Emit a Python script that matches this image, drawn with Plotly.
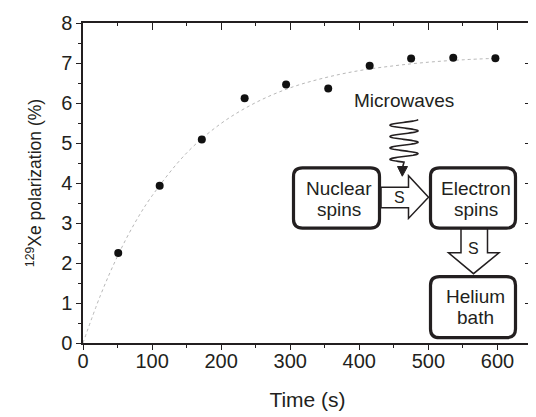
import numpy as np
import plotly.graph_objects as go

# ---- data ----
time_s = [51, 111, 172, 234, 294, 355, 415, 475, 536, 597]
polarization = [2.25, 3.93, 5.09, 6.12, 6.46, 6.36, 6.93, 7.11, 7.13, 7.12]

fit_time = [0, 25, 50, 75, 100, 150, 200, 250, 300, 350, 400, 450, 500, 550, 600]
fit_pol = [0, 1.18, 2.17, 3.00, 3.68, 4.75, 5.49, 6.01, 6.38, 6.63, 6.81, 6.93, 7.02, 7.08, 7.12]

x_ticks = [0, 100, 200, 300, 400, 500, 600]
y_ticks = [0, 1, 2, 3, 4, 5, 6, 7, 8]

# ---- geometry (page body has an 8px default margin) ----
OFF = 8
W, H = 536 - OFF, 417 - OFF
PL, PT = 83, 13            # plot-area left/top in window pixels
PW, PH = 449, 330          # plot-area size
L, T = PL - OFF, PT - OFF
R, B = W - L - PW, H - T - PH

INK = "#231f20"
FONT = "Liberation Sans, Arial, Helvetica, sans-serif"


def px(x):
    return (x - PL) / PW


def py(y):
    return 1 - (y - PT) / PH


def poly(points):
    return "M " + " L ".join(f"{px(x):.5f},{py(y):.5f}" for x, y in points) + " Z"


def rrect(x0, y0, x1, y1, r):
    rx, ry = r / PW, r / PH
    X0, X1 = px(x0), px(x1)
    Y0, Y1 = py(y0), py(y1)
    return (f"M {X0+rx},{Y0} L {X1-rx},{Y0} Q {X1},{Y0} {X1},{Y0-ry} "
            f"L {X1},{Y1+ry} Q {X1},{Y1} {X1-rx},{Y1} L {X0+rx},{Y1} "
            f"Q {X0},{Y1} {X0},{Y1+ry} L {X0},{Y0-ry} Q {X0},{Y0} {X0+rx},{Y0} Z")


fig = go.Figure()

fig.add_trace(go.Scatter(
    x=fit_time, y=fit_pol, mode="lines",
    line=dict(color="#b8b8b8", width=1, dash="dot", shape="spline"),
    hoverinfo="skip", showlegend=False))

fig.add_trace(go.Scatter(
    x=time_s, y=polarization, mode="markers",
    marker=dict(color="#111111", size=8),
    showlegend=False))

# dummy trace so mirrored top/right axes are drawn
fig.add_trace(go.Scatter(x=[None], y=[None], xaxis="x2", yaxis="y2",
                         showlegend=False, hoverinfo="skip"))

axis_common = dict(showline=True, linewidth=1.5, linecolor=INK, showgrid=False,
                   zeroline=False, tickcolor=INK, tickwidth=1.3)

fig.update_layout(
    width=W, height=H, autosize=False,
    margin=dict(l=L, r=R, t=T, b=B, pad=0),
    paper_bgcolor="white", plot_bgcolor="white",
    font=dict(family=FONT, size=20, color=INK),
    xaxis=dict(range=[0, 650], tickvals=x_ticks, ticks="outside", ticklen=5,
               minor=dict(dtick=50, ticks="outside", ticklen=3, tickcolor=INK, tickwidth=1.2),
               ticklabelstandoff=-6,
               title=dict(text="Time (s)", font=dict(size=21), standoff=22),
               tickfont=dict(size=20), **axis_common),
    yaxis=dict(range=[0, 8], tickvals=y_ticks, ticks="outside", ticklen=5,
               minor=dict(dtick=0.5, ticks="outside", ticklen=3, tickcolor=INK, tickwidth=1.2),
               ticklabeloverflow="allow",
               title=dict(text="<sup>129</sup>Xe polarization (%)", font=dict(size=17.5), standoff=15),
               tickfont=dict(size=20), **axis_common),
    xaxis2=dict(range=[0, 650], tickvals=x_ticks, ticks="inside", ticklen=7,
                minor=dict(dtick=50, ticks="inside", ticklen=3, tickcolor=INK, tickwidth=1.2),
                overlaying="x", side="top", anchor="y2", showticklabels=False, **axis_common),
    yaxis2=dict(range=[0, 8], tickvals=y_ticks, ticks="inside", ticklen=7,
                minor=dict(dtick=0.5, ticks="inside", ticklen=3, tickcolor=INK, tickwidth=1.2),
                overlaying="y", side="right", anchor="x2", showticklabels=False, **axis_common),
)

shapes = []
# block arrows (drawn first so boxes cover their ends)
h_arrow = [(381, 182.5), (408.5, 182.5), (408.5, 170.5), (428.5, 192.7),
           (408.5, 214.5), (408.5, 203.5), (381, 203.5)]
v_arrow = [(461, 225), (461, 250), (448.5, 250), (473.5, 271.5),
           (499, 250), (487.5, 250), (487.5, 225)]
for pts in (h_arrow, v_arrow):
    shapes.append(dict(type="path", xref="paper", yref="paper", path=poly(pts),
                       fillcolor="white", line=dict(color=INK, width=1.5), layer="above"))

# rounded boxes
for (x0, y0, x1, y1) in [(293.5, 162.5, 379.5, 224.5),
                         (430.5, 162.5, 515.5, 224.5),
                         (430.5, 274.5, 515.5, 337.5)]:
    shapes.append(dict(type="path", xref="paper", yref="paper",
                       path=rrect(x0, y0, x1, y1, 9),
                       fillcolor="white", line=dict(color=INK, width=3.2), layer="above"))

# microwave wave
t = np.linspace(0, 1, 160)
wy = 112.5 + 44 * t
wx = 404 + 14 * np.cos(np.pi * 7.5 * t)
pts = list(zip(wx, wy)) + [(402.5, 162)]
shapes.append(dict(type="path", xref="paper", yref="paper",
                   path="M " + " L ".join(f"{px(a):.5f},{py(b):.5f}" for a, b in pts),
                   line=dict(color=INK, width=1.6), layer="above"))
shapes.append(dict(type="path", xref="paper", yref="paper",
                   path=poly([(397.5, 161), (407.5, 161), (402.3, 171)]),
                   fillcolor=INK, line=dict(color=INK, width=1), layer="above"))
fig.update_layout(shapes=shapes)

annotations = []
labels = [("Microwaves", 403.5, 92.7, 19),
          ("Nuclear", 338.5, 183.3, 19), ("spins", 338.5, 205, 19),
          ("Electron", 476, 183.3, 19), ("spins", 476, 205, 19),
          ("Helium", 475.5, 295, 19), ("bath", 475.5, 316.7, 19),
          ("S", 399, 193.3, 16), ("S", 473.5, 246, 16)]
for txt, x, y, s in labels:
    annotations.append(dict(text=txt, x=px(x), y=py(y), xref="paper", yref="paper",
                            xanchor="center", yanchor="middle", showarrow=False,
                            font=dict(size=s, color=INK, family=FONT)))
fig.update_layout(annotations=annotations)

fig.write_html("out.html")
